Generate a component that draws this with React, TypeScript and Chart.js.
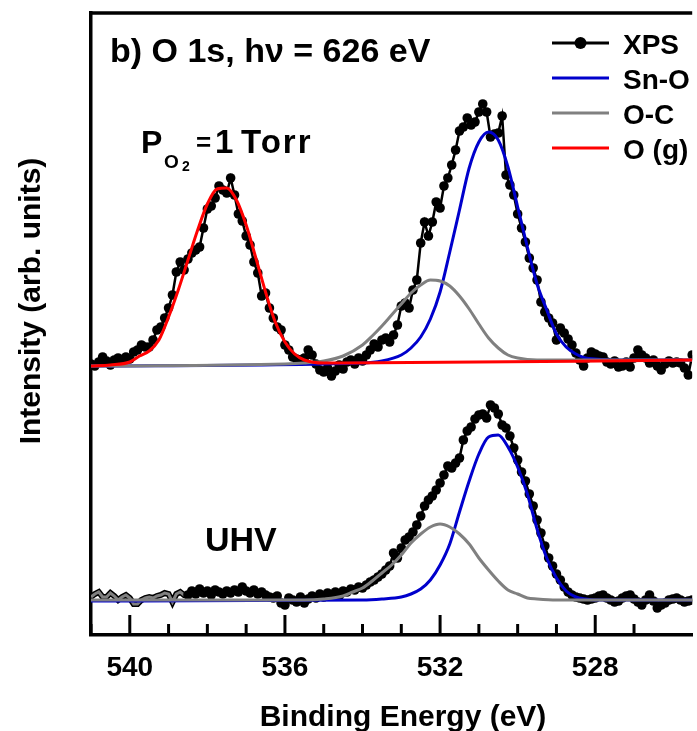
import React, { useEffect, useRef } from 'react';
import { Chart, registerables } from 'chart.js';

Chart.register(...registerables);

// ---------- data ----------
// Energy grid of the measured spectra (eV, uniform acquisition step)
const STEP = 0.1;
const TORR_START = 541.0;
// XPS, P(O2) = 1 Torr, 541.0 -> 525.5 eV
const XPS_1TORR = [
  271, 269, 273, 278, 274, 270, 275, 277, 275, 278, 276,
  283, 285, 290, 288, 288, 295, 305, 308, 317, 327,
  340, 363, 373, 365, 376, 382, 385, 388, 407, 426,
  429, 437, 449, 445, 442, 457, 440, 421, 414, 399,
  390, 373, 362, 339, 342, 327, 317, 308, 305, 290,
  285, 278, 276, 275, 277, 285, 280, 271, 265, 263,
  267, 259, 264, 270, 266, 273, 275, 271, 277, 274,
  280, 285, 291, 288, 295, 297, 293, 300, 310, 329,
  332, 327, 345, 355, 392, 413, 399, 413, 433, 427,
  449, 457, 470, 485, 504, 508, 517, 510, 513, 523,
  531, 523, 498, 501, 502, 519, 460, 450, 440, 421,
  407, 393, 377, 367, 355, 333, 323, 317, 312, 295,
  307, 302, 296, 290, 282, 275, 269, 277, 283, 281,
  279, 278, 273, 271, 274, 268, 269, 273, 268, 277,
  285, 280, 277, 272, 275, 269, 265, 271, 274, 272,
  273, 272, 267, 260, 280,
];
// XPS, UHV, low-energy-side part drawn as a line, 541.0 -> 538.5 eV
const UHV_LINE_START = 541.0;
const XPS_UHV_LINE = [
  38, 41, 43, 38, 38, 42, 39, 35, 38, 40, 37, 31, 31,
  35, 37, 38, 37, 39, 40, 42, 41, 33, 41, 43, 40, 40,
];
// XPS, UHV, 538.5 -> 525.5 eV
const UHV_START = 538.5;
const XPS_UHV = [
  40, 44, 41, 46, 42, 44,
  40, 45, 43, 41, 44, 42, 45, 43, 48, 44,
  42, 45, 41, 43, 40, 38, 37, 39, 32, 30,
  37, 35, 33, 38, 32, 36, 39, 37, 41, 38,
  42, 40, 43, 39, 44, 43, 46, 45, 48, 47,
  50, 53, 55, 58, 61, 65, 69, 82, 77, 87,
  95, 98, 103, 110, 119, 129, 135, 139, 145, 152,
  160, 169, 167, 172, 177, 195, 204, 208, 216, 220,
  221, 217, 230, 227, 221, 210, 207, 199, 187, 175,
  163, 154, 141, 129, 115, 102, 89, 77, 69, 61,
  55, 48, 43, 40, 38, 37, 36, 35, 36, 37,
  39, 40, 37, 35, 33, 34, 37, 39, 40, 36,
  33, 30, 35, 40, 34, 27, 30, 32, 35, 36,
  37, 35, 33, 34, 35,
];

// Fitted components [binding energy, intensity]
const FIT_OG_1TORR: [number, number][] = [
  [541.0, 269], [540.5, 270], [540.0, 273], [539.75, 279], [539.5, 284], [539.25, 295],
  [539.0, 318], [538.75, 345], [538.5, 375], [538.25, 405], [538.0, 431], [537.75, 446],
  [537.5, 447], [537.25, 435], [537.0, 410], [536.75, 377], [536.5, 343], [536.25, 313],
  [536.0, 293], [535.75, 281], [535.5, 275], [535.0, 272], [534.5, 272], [525.5, 275],
];
const FIT_SNO_1TORR: [number, number][] = [
  [541.0, 269], [534.0, 272], [533.5, 274], [533.0, 280], [532.75, 287], [532.5, 298],
  [532.25, 316], [532.0, 343], [531.75, 383], [531.5, 425], [531.25, 467], [531.0, 493],
  [530.75, 503], [530.5, 495], [530.25, 468], [530.0, 428], [529.75, 388], [529.5, 351],
  [529.25, 325], [529.0, 301], [528.75, 288], [528.5, 281], [528.25, 277], [528.0, 276],
  [527.5, 275], [525.5, 275],
];
const FIT_OC_1TORR: [number, number][] = [
  [541.0, 269], [536.0, 271], [535.5, 272], [535.0, 274], [534.5, 279], [534.0, 290],
  [533.75, 299], [533.5, 309], [533.25, 320], [533.0, 331], [532.75, 342], [532.5, 350],
  [532.25, 355], [532.0, 354], [531.75, 349], [531.5, 339], [531.25, 326], [531.0, 311],
  [530.75, 297], [530.5, 287], [530.25, 280], [530.0, 277], [529.5, 275], [525.5, 275],
];
const FIT_SNO_UHV: [number, number][] = [
  [541.0, 34], [534.0, 35], [533.5, 36], [533.0, 38], [532.75, 41], [532.5, 46],
  [532.25, 55], [532.0, 70], [531.75, 91], [531.5, 123], [531.25, 154], [531.0, 181],
  [530.75, 198], [530.5, 200], [530.25, 188], [530.0, 168], [529.75, 141], [529.5, 106],
  [529.25, 77], [529.0, 57], [528.75, 44], [528.5, 38], [528.25, 36], [528.0, 35],
  [525.5, 35],
];
const FIT_OC_UHV: [number, number][] = [
  [541.0, 35], [535.5, 35], [535.0, 36], [534.5, 39], [534.25, 43], [534.0, 47],
  [533.75, 54], [533.5, 62], [533.25, 70], [533.0, 80], [532.75, 92], [532.5, 101],
  [532.25, 108], [532.0, 111], [531.75, 108], [531.5, 101], [531.25, 91], [531.0, 77],
  [530.75, 65], [530.5, 54], [530.25, 45], [530.0, 41], [529.75, 37], [529.5, 36],
  [529.0, 35], [525.5, 35],
];

const X_MIN = 525.5;
const X_MAX = 541.0;
const Y_MIN = 0;
const Y_MAX = 622;
const MAJOR_EVERY = 4;

const PANEL_TITLE = 'b) O 1s, h\u03bd = 626 eV';
const X_TITLE = 'Binding Energy (eV)';
const Y_TITLE = 'Intensity (arb. units)';
const LEGEND_ITEMS = ['XPS', 'Sn-O', 'O-C', 'O (g)'];

const FONT = '"Liberation Sans", Arial, Helvetica, sans-serif';
const BLUE = '#0000CC';
const GRAY = '#808080';
const RED = '#FF0000';
const BLACK = '#000000';

const toPoints = (start: number, vals: number[]) =>
  vals.map((y, i) => ({ x: Math.round((start - i * STEP) * 100) / 100, y }));
const fromPairs = (arr: [number, number][]) => arr.map(([x, y]) => ({ x, y }));

const decorPlugin = {
  id: 'decor',
  afterDraw(chart: any) {
    const { ctx, chartArea } = chart;
    const xs = chart.scales.x;
    ctx.save();
    // top frame
    ctx.strokeStyle = BLACK;
    ctx.lineWidth = 3.5;
    ctx.beginPath();
    ctx.moveTo(chartArea.left - 1.75, chartArea.top);
    ctx.lineTo(chartArea.right, chartArea.top);
    ctx.stroke();
    // inward ticks
    ctx.lineWidth = 3;
    for (const t of xs.ticks) {
      const v = t.value;
      if (Math.abs(v - Math.round(v)) > 1e-6) continue;
      const px = xs.getPixelForValue(v);
      const len = Math.round(v) % MAJOR_EVERY === 0 ? 20 : 11;
      ctx.beginPath();
      ctx.moveTo(px, chartArea.bottom);
      ctx.lineTo(px, chartArea.bottom - len);
      ctx.stroke();
    }

    ctx.fillStyle = BLACK;
    ctx.textBaseline = 'alphabetic';
    ctx.textAlign = 'left';
    // panel title
    ctx.font = `bold 34px ${FONT}`;
    ctx.fillText(PANEL_TITLE, 110, 62);
    // P_O2 = 1 Torr
    ctx.font = `bold 32px ${FONT}`;
    ctx.fillText('P', 141, 153);
    ctx.font = `bold 19px ${FONT}`;
    ctx.fillText('O', 164, 168);
    ctx.font = `bold 14px ${FONT}`;
    ctx.fillText('2', 182, 171);
    ctx.font = `bold 26px ${FONT}`;
    ctx.fillText('=', 196, 151);
    ctx.font = `bold 33px ${FONT}`;
    ctx.fillText('1', 215, 153);
    (ctx as any).letterSpacing = '2px';
    ctx.fillText('Torr', 241, 153);
    (ctx as any).letterSpacing = '0px';
    // UHV
    ctx.font = `bold 34px ${FONT}`;
    ctx.fillText('UHV', 205, 551);

    // legend
    const colors = [BLACK, BLUE, GRAY, RED];
    LEGEND_ITEMS.forEach((label, i) => {
      const y = 43 + i * 35;
      ctx.strokeStyle = colors[i];
      ctx.lineWidth = 3;
      ctx.beginPath();
      ctx.moveTo(552, y);
      ctx.lineTo(609, y);
      ctx.stroke();
      if (i === 0) {
        ctx.fillStyle = BLACK;
        ctx.beginPath();
        ctx.arc(580.5, y, 6, 0, Math.PI * 2);
        ctx.fill();
      }
      ctx.fillStyle = BLACK;
      ctx.font = `bold 28px ${FONT}`;
      ctx.fillText(label, 623, y + 10.5);
    });

    // axis titles
    ctx.font = `bold 30px ${FONT}`;
    ctx.textAlign = 'center';
    ctx.fillText(X_TITLE, 403, 726);
    ctx.translate(40, 301);
    ctx.rotate(-Math.PI / 2);
    ctx.fillText(Y_TITLE, 0, 0);
    ctx.restore();
  },
};

export default function App() {
  const ref = useRef<HTMLCanvasElement>(null);

  useEffect(() => {
    const canvas = ref.current;
    if (!canvas) return;
    const uhvLine = toPoints(UHV_LINE_START, XPS_UHV_LINE);
    const fit = (data: any, color: string, order: number) => ({
      data,
      borderColor: color,
      borderWidth: 3,
      pointRadius: 0,
      cubicInterpolationMode: 'monotone' as const,
      fill: false,
      order,
    });
    const xps = (data: any) => ({
      data,
      borderColor: BLACK,
      backgroundColor: BLACK,
      borderWidth: 2.5,
      pointRadius: 4.8,
      pointBorderWidth: 0,
      pointBackgroundColor: BLACK,
      tension: 0,
      fill: false,
      order: 10,
    });
    const chart = new Chart(canvas, {
      type: 'line',
      data: {
        datasets: [
          { label: 'O (g)', ...fit(fromPairs(FIT_OG_1TORR), RED, 1) },
          { label: 'O-C', ...fit(fromPairs(FIT_OC_1TORR), GRAY, 2) },
          { label: 'O-C UHV', ...fit(fromPairs(FIT_OC_UHV), GRAY, 2) },
          { label: 'Sn-O', ...fit(fromPairs(FIT_SNO_1TORR), BLUE, 3) },
          { label: 'Sn-O UHV', ...fit(fromPairs(FIT_SNO_UHV), BLUE, 3) },
          { label: 'XPS', ...xps(toPoints(TORR_START, XPS_1TORR)) },
          { label: 'XPS UHV', ...xps(toPoints(UHV_START, XPS_UHV)) },
          {
            label: 'XPS UHV line',
            data: uhvLine,
            borderColor: GRAY,
            borderWidth: 3,
            pointRadius: 0,
            tension: 0,
            order: 11,
          },
          {
            label: 'XPS UHV line edge',
            data: uhvLine,
            borderColor: BLACK,
            borderWidth: 6,
            pointRadius: 0,
            tension: 0,
            order: 12,
          },
        ] as any,
      },
      options: {
        responsive: false,
        animation: false,
        devicePixelRatio: 1,
        events: [],
        layout: { padding: { top: 13, left: 0, right: 0, bottom: 0 } },
        plugins: {
          legend: { display: false },
          tooltip: { enabled: false },
          title: { display: false },
        },
        scales: {
          x: {
            type: 'linear',
            reverse: true,
            min: X_MIN,
            max: X_MAX,
            grid: { display: false, drawTicks: false },
            border: { display: true, color: BLACK, width: 3.5 },
            ticks: {
              stepSize: 1,
              autoSkip: false,
              maxRotation: 0,
              padding: 16,
              color: BLACK,
              font: { family: FONT, size: 28, weight: 'bold' },
              callback: (v: any) => {
                const n = Number(v);
                if (Math.abs(n - Math.round(n)) > 1e-6) return '';
                return Math.round(n) % MAJOR_EVERY === 0 ? String(Math.round(n)) : '';
              },
            },
            afterFit: (s: any) => {
              s.height = 96;
              s.paddingLeft = 0;
              s.paddingRight = 0;
            },
          },
          y: {
            type: 'linear',
            min: Y_MIN,
            max: Y_MAX,
            grid: { display: false, drawTicks: false },
            border: { display: true, color: BLACK, width: 3.5 },
            ticks: { display: false },
            afterFit: (s: any) => {
              s.width = 91;
              s.paddingTop = 0;
              s.paddingBottom = 0;
            },
          },
        },
      } as any,
      plugins: [decorPlugin],
    });
    return () => chart.destroy();
  }, []);

  return (
    <div style={{ position: 'fixed', left: 0, top: 0, width: 697, height: 731, background: '#fff' }}>
      <canvas ref={ref} width={697} height={731} style={{ display: 'block', width: 697, height: 731 }} />
    </div>
  );
}
